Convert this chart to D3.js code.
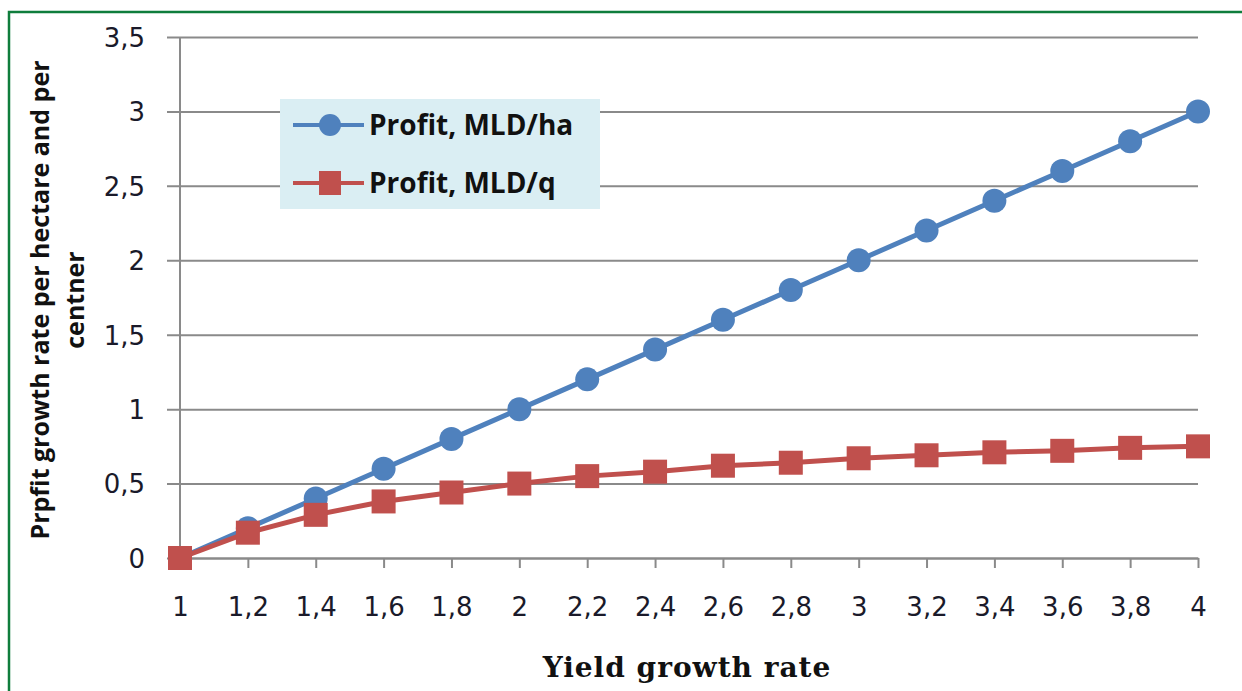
<!DOCTYPE html>
<html>
<head>
<meta charset="utf-8">
<script src="https://cdn.jsdelivr.net/npm/d3@7"></script>
<style>
  html, body { margin: 0; padding: 0; background: #fff; }
  svg { display: block; }
  .tick text { font-family: "DejaVu Sans", Verdana, sans-serif; font-size: 26px; fill: #1a1a2a; }
</style>
</head>
<body>
<svg id="chart" width="1242" height="691"></svg>
<script>
'use strict';
// x categories (yield growth rate)
const xValues = [1, 1.2, 1.4, 1.6, 1.8, 2, 2.2, 2.4, 2.6, 2.8, 3, 3.2, 3.4, 3.6, 3.8, 4];
// profit growth, MLD/ha
const profitHa = [0, 0.2, 0.4, 0.6, 0.8, 1.0, 1.2, 1.4, 1.6, 1.8, 2.0, 2.2, 2.4, 2.6, 2.8, 3.0];
// profit growth, MLD/q
const profitQ = [0, 0.17, 0.29, 0.38, 0.44, 0.5, 0.55, 0.58, 0.62, 0.64, 0.67, 0.69, 0.71, 0.72, 0.74, 0.75];
const yTicks = [0, 0.5, 1, 1.5, 2, 2.5, 3, 3.5];
const fmt = v => String(v).replace('.', ',');

const svg = d3.select('#chart');
const W = 1242, H = 691;
const m = { left: 180, right: 44, top: 37, bottom: 133 };

// green frame
svg.append('path')
  .attr('d', `M9,${H} V12 H${W}`)
  .attr('fill', 'none').attr('stroke', '#0f7d3c').attr('stroke-width', 2.5);

const x = d3.scaleLinear().domain([1, 4]).range([m.left, W - m.right]);
const y = d3.scaleLinear().domain([0, 3.5]).range([H - m.bottom, m.top]);

// y grid + axis
const yAxis = svg.append('g')
  .attr('transform', `translate(${m.left},0)`)
  .call(d3.axisLeft(y).tickValues(yTicks).tickFormat(fmt)
    .tickSize(-(W - m.right - m.left)).tickSizeOuter(0).tickPadding(35));
yAxis.select('.domain').remove();
yAxis.selectAll('.tick line').attr('stroke', '#8a8a8a').attr('stroke-width', 2).attr('x1', -13);
yAxis.selectAll('.tick text').attr('dy', '0.36em');

svg.append('line')
  .attr('x1', m.left).attr('x2', m.left).attr('y1', y(3.5)).attr('y2', y(0))
  .attr('stroke', '#8a8a8a').attr('stroke-width', 2);

// x axis
const xAxis = svg.append('g')
  .attr('transform', `translate(0,${y(0)})`)
  .call(d3.axisBottom(x).tickValues(xValues).tickFormat(fmt).tickSize(10).tickSizeOuter(0).tickPadding(30));
xAxis.select('.domain').attr('stroke', '#8a8a8a').attr('stroke-width', 2);
xAxis.selectAll('.tick line').attr('stroke', '#8a8a8a').attr('stroke-width', 2);

// series
const blue = '#4f81bd', red = '#c0504d';
const line = d3.line().x((d, i) => x(xValues[i])).y(d => y(d));

svg.append('path').datum(profitHa).attr('d', line)
  .attr('fill', 'none').attr('stroke', blue).attr('stroke-width', 5);
svg.append('g').selectAll('circle').data(profitHa).join('circle')
  .attr('cx', (d, i) => x(xValues[i])).attr('cy', d => y(d)).attr('r', 12).attr('fill', blue);

svg.append('path').datum(profitQ).attr('d', line)
  .attr('fill', 'none').attr('stroke', red).attr('stroke-width', 5);
svg.append('g').selectAll('rect').data(profitQ).join('rect')
  .attr('x', (d, i) => x(xValues[i]) - 12).attr('y', d => y(d) - 12)
  .attr('width', 24).attr('height', 24).attr('fill', red);

// legend
const lg = svg.append('g');
lg.append('rect').attr('x', 280).attr('y', 99).attr('width', 320).attr('height', 110).attr('fill', '#daeef3');
const items = [
  { name: 'Profit, MLD/ha', color: blue, shape: 'circle', cy: 125 },
  { name: 'Profit, MLD/q', color: red, shape: 'square', cy: 183 },
];
items.forEach(it => {
  lg.append('line').attr('x1', 293).attr('x2', 364).attr('y1', it.cy).attr('y2', it.cy)
    .attr('stroke', it.color).attr('stroke-width', 4);
  if (it.shape === 'circle') {
    lg.append('circle').attr('cx', 330).attr('cy', it.cy).attr('r', 11).attr('fill', it.color);
  } else {
    lg.append('rect').attr('x', 319).attr('y', it.cy - 12).attr('width', 22).attr('height', 24).attr('fill', it.color);
  }
  lg.append('text').attr('x', 369).attr('y', it.cy).attr('dy', '0.36em')
    .attr('font-family', '"Open Sans", "Liberation Sans", sans-serif').attr('font-weight', 'bold')
    .attr('font-size', 28).attr('fill', '#111').text(it.name);
});

// axis titles
svg.append('text')
  .attr('x', (m.left + W - m.right) / 2 - 2).attr('y', 677)
  .attr('text-anchor', 'middle')
  .attr('font-family', '"DejaVu Serif", "Liberation Serif", serif').attr('font-weight', 'bold')
  .attr('font-size', 28).attr('letter-spacing', 1).attr('fill', '#111').text('Yield growth rate');

const yt = svg.append('text')
  .attr('transform', 'translate(40,300) rotate(-90)')
  .attr('text-anchor', 'middle')
  .attr('font-family', '"Open Sans", "Liberation Sans", sans-serif').attr('font-weight', 'bold')
  .attr('font-size', 25).attr('fill', '#111');
yt.append('tspan').attr('x', 0).attr('dy', '0.35em').text('Prpfit growth rate per hectare and  per');
yt.append('tspan').attr('x', 0).attr('dy', '1.4em').text('centner');
</script>
</body>
</html>
